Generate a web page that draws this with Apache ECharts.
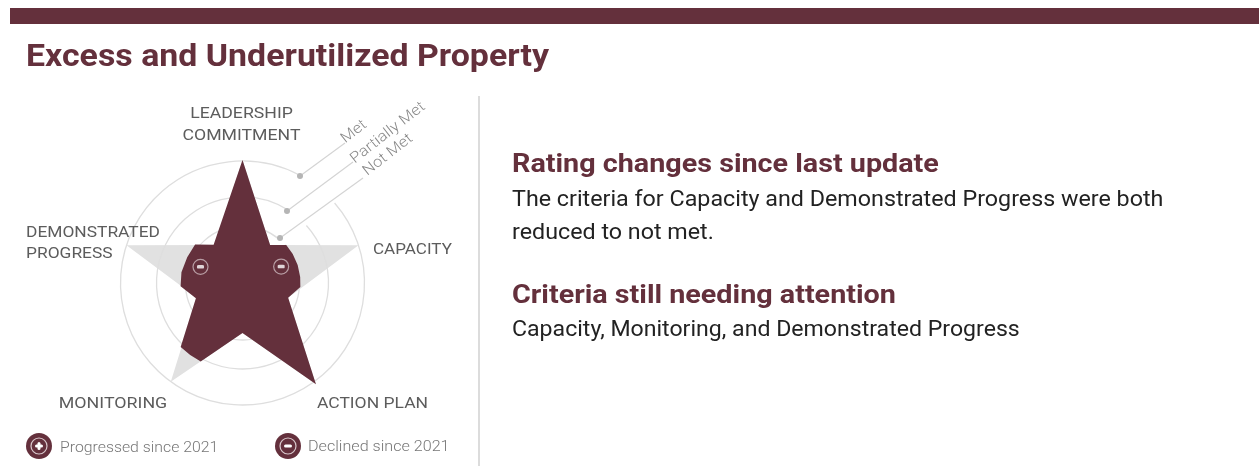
<!DOCTYPE html>
<html><head><meta charset="utf-8">
<style>html,body{margin:0;padding:0;background:#fff}#c{width:1259px;height:466px;filter:blur(0.55px)}</style>
<script src="https://cdn.jsdelivr.net/npm/echarts@6/dist/echarts.min.js"></script>
</head><body><div id="c"></div>
<script>
// radial scale: outer ring = Met. Points are [radius, angle clockwise from Leadership Commitment]
const titleText = 'Excess and Underutilized Property';
const criteria = [['LEADERSHIP','COMMITMENT'],['CAPACITY'],['ACTION PLAN'],['MONITORING'],['DEMONSTRATED','PROGRESS']];
const ringLevels = ['Met','Partially Met','Not Met'];
const ringRadius = [122, 86, 57];
const ringGapStart = [28, 32, 40];
const ringGapEnd = [49, 48, 48];
const targetStar = [[123,0],[47,36],[122,72],[48,108],[125,144],[50,180],[122,216],[48,252],[122,288],[47,324],[123,360]];
const currentRating = [[123,0],[47,36],[58,49],[58,60],[58,72],[58,84],[58,94],[48,108],[125,144],[50,180],[89,208],[89,216],[89,224],[49,252],[62,267],[62,280],[61,295],[61,309],[48,323],[123,360]];
const declinedMarks = [[42,67],[45,291]];
const heading1 = 'Rating changes since last update';
const body1 = ['The criteria for Capacity and Demonstrated Progress were both','reduced to not met.'];
const heading2 = 'Criteria still needing attention';
const body2 = ['Capacity, Monitoring, and Demonstrated Progress'];
const legendItems = ['Progressed since 2021','Declined since 2021'];

const MAROON='#64303c', FONT='Roboto, sans-serif';
const chart = echarts.init(document.getElementById('c'));
const txt=(x,y,text,o={})=>({type:'text',x,y,z:100,rotation:o.rot||0,scaleX:o.sx||1,style:{text,fill:o.fill||'#5c5c5c',
  font:`${o.w||400} ${o.s||15.5}px ${FONT}`,align:o.a||'left',verticalAlign:'middle'}});
const lineEl=(x1,y1,x2,y2,c,w)=>({type:'line',z:90,shape:{x1,y1,x2,y2},style:{stroke:c,lineWidth:w}});
const dot=(x,y,r,o)=>({type:'circle',z:o.z||95,shape:{cx:x,cy:y,r},style:o.s});
const legendIcon=(x,y,plus)=>{const els=[dot(x,y,13,{s:{fill:MAROON}}),dot(x,y,8,{z:96,s:{fill:'none',stroke:'#d9c8cc',lineWidth:1.2}}),
  {type:'rect',z:97,shape:{x:x-4,y:y-1.5,width:8,height:3,r:1.5},style:{fill:'#fff'}}];
  if(plus)els.push({type:'rect',z:97,shape:{x:x-1.5,y:y-4,width:3,height:8,r:1.5},style:{fill:'#fff'}});return els;};

const rotation = 38*Math.PI/180;
const graphics=[
  {type:'rect',z:50,shape:{x:10,y:8,width:1249,height:16},style:{fill:MAROON}},
  {type:'rect',z:50,shape:{x:478,y:96,width:2,height:370},style:{fill:'#dcdcdc'}},
  txt(26,58.5,titleText,{s:31,w:700,fill:MAROON,sx:1.093}),
  txt(241.5,114.5,criteria[0][0],{a:'center',sx:1.14}),txt(241.5,136.5,criteria[0][1],{a:'center',sx:1.14}),
  txt(373,250.5,criteria[1][0],{sx:1.1}),
  txt(372.5,404.5,criteria[2][0],{a:'center',sx:1.13}),
  txt(113,404.5,criteria[3][0],{a:'center',sx:1.15}),
  txt(26,233.5,criteria[4][0],{sx:1.12}),txt(26,254.5,criteria[4][1],{sx:1.12}),
  lineEl(300,176,345,143,'#d4d4d4',1.2),lineEl(287,211,353,162,'#d4d4d4',1.2),lineEl(280,238,363,178,'#d4d4d4',1.2),
  dot(300,176,3,{s:{fill:'#b5b5b5'}}),dot(287,211,3,{s:{fill:'#b5b5b5'}}),dot(280,238,3,{s:{fill:'#b5b5b5'}}),
  txt(354,132,ringLevels[0],{a:'center',s:15,w:300,fill:'#888',rot:rotation,sx:1.1}),
  txt(388,133,ringLevels[1],{a:'center',s:15,w:300,fill:'#888',rot:rotation,sx:1.1}),
  txt(388,155,ringLevels[2],{a:'center',s:15,w:300,fill:'#888',rot:rotation,sx:1.1}),
  ...legendIcon(39,446,true),...legendIcon(288,446,false),
  txt(60,448,legendItems[0],{s:15.5,w:300,fill:'#777',sx:1.02}),txt(308,447,legendItems[1],{s:15.5,w:300,fill:'#777',sx:1.04}),
  txt(512,165.5,heading1,{s:26,w:700,fill:MAROON,sx:1.105}),
  txt(512,200.5,body1[0],{s:22,fill:'#222',sx:1.058}),txt(512,233,body1[1],{s:22,fill:'#222',sx:1.058}),
  txt(512,296.5,heading2,{s:26,w:700,fill:MAROON,sx:1.105}),
  txt(512,330.5,body2[0],{s:22,fill:'#222',sx:1.05})
];

chart.setOption({
  animation:false,
  polar:{center:[242.5,283],radius:126},
  angleAxis:{type:'value',min:0,max:360,startAngle:90,clockwise:true,show:false},
  radiusAxis:{type:'value',min:0,max:126,show:false},
  graphic:{elements:graphics},
  series:[
    {type:'line',name:'Target',coordinateSystem:'polar',data:targetStar,showSymbol:false,silent:true,z:1,
      lineStyle:{width:0},areaStyle:{color:'#e1e1e1',opacity:1}},
    {type:'custom',name:'Rings',coordinateSystem:'polar',z:2,silent:true,clip:false,
      data:ringRadius.map((r,i)=>[r,ringGapStart[i],ringGapEnd[i]]),
      renderItem(params,api){
        const cs=params.coordSys, r=cs.cy-api.coord([api.value(0),0])[1];
        const rad=d=>(d-90)*Math.PI/180;
        return {type:'arc',shape:{cx:cs.cx,cy:cs.cy,r,startAngle:rad(api.value(2)),endAngle:rad(api.value(1)+360),clockwise:true},
          style:{stroke:'#dedede',lineWidth:1.3,fill:null}};
      }},
    {type:'line',name:'Current',coordinateSystem:'polar',data:currentRating,showSymbol:false,silent:true,z:3,
      lineStyle:{width:0},areaStyle:{color:MAROON,opacity:1}},
    {type:'scatter',coordinateSystem:'polar',data:declinedMarks,z:4,silent:true,symbol:'circle',symbolSize:15,
      itemStyle:{color:'transparent',borderColor:'#cdb9be',borderWidth:1.2}},
    {type:'scatter',coordinateSystem:'polar',data:declinedMarks,z:5,silent:true,symbol:'roundRect',symbolSize:[7,3.5],
      itemStyle:{color:'#fff'}}
  ]
});
</script></body></html>
